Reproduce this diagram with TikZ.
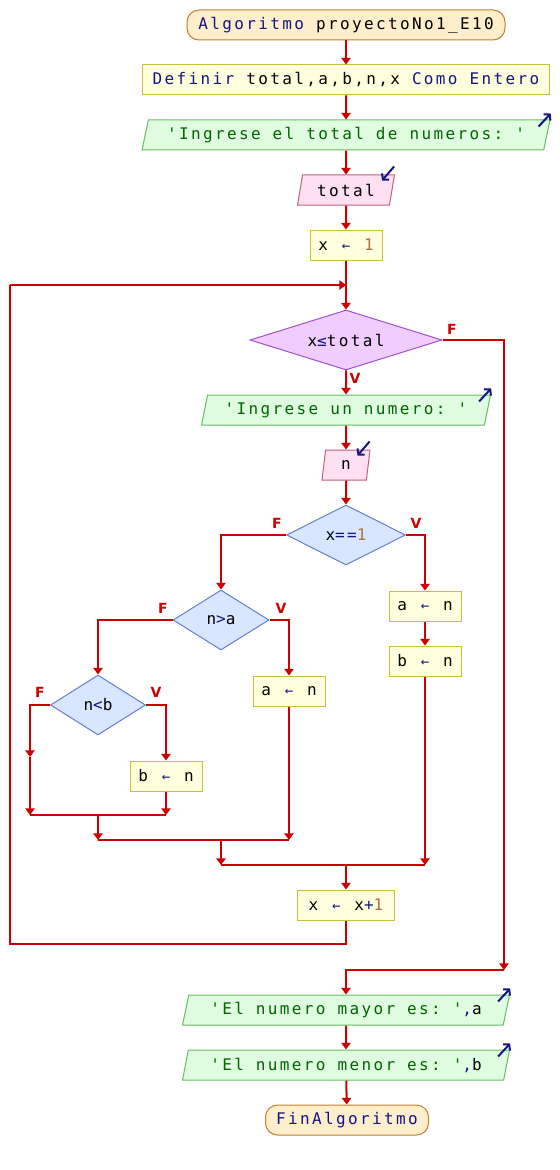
\documentclass[tikz,border=0pt]{standalone}
\usepackage{fontspec}
\setmonofont{DejaVu Sans Mono}[LetterSpace=14.8]
\setsansfont{DejaVu Sans}
\usetikzlibrary{arrows.meta,shapes.geometric}
\definecolor{kwblue}{RGB}{20,20,130}
\definecolor{nmbrown}{RGB}{180,110,70}
\definecolor{cadgreen}{RGB}{0,100,0}
\definecolor{flowred}{RGB}{204,0,0}
\definecolor{termf}{RGB}{255,238,204}
\definecolor{termb}{RGB}{192,128,48}
\definecolor{procf}{RGB}{255,255,221}
\definecolor{procb}{RGB}{200,192,60}
\definecolor{outf}{RGB}{224,252,224}
\definecolor{outb}{RGB}{100,190,100}
\definecolor{inf}{RGB}{255,224,240}
\definecolor{inb}{RGB}{192,96,128}
\definecolor{whf}{RGB}{240,204,255}
\definecolor{whb}{RGB}{160,80,208}
\definecolor{sif}{RGB}{216,230,255}
\definecolor{sib}{RGB}{96,128,208}
\newcommand\pse{\ttfamily\fontsize{12}{14}\selectfont}
\newcommand\kw[1]{\textcolor{kwblue}{#1}}
\newcommand\nm[1]{\textcolor{nmbrown}{#1}}
\newcommand\cad[1]{\textcolor{cadgreen}{#1}}
\newcommand\asig{\hbox to 9pt{\hss\kw{\fontsize{10.5}{8}\selectfont ←}\hss}}

\begin{document}
\begin{tikzpicture}[x=.75pt,y=-.75pt,
	box/.style={draw,line width=.75pt,inner sep=0pt,minimum height=22.5pt,font=\pse},
	term/.style={box,draw=termb,fill=termf,rounded corners=9pt},
	proc/.style={box,draw=procb,fill=procf},
	sal/.style={box,draw=outb,fill=outf,trapezium,trapezium left angle=68,trapezium right angle=112,trapezium stretches body},
	ent/.style={sal,draw=inb,fill=inf},
	mq/.style={box,diamond,shape aspect=3,draw=whb,fill=whf},
	si/.style={mq,draw=sib,fill=sif},
	line/.style={draw=flowred,line width=1.5pt},
	flow/.style={line,-{Triangle[width=7pt,length=5pt]}},
	ico/.style={draw=kwblue,line width=1.5pt,-{Straight Barb[length=3pt,width=7pt]}},
	lbl/.style={text=flowred,font=\sffamily\bfseries\fontsize{10.5}{12}\selectfont,inner sep=0pt}]
	\useasboundingbox (0,0) rectangle (560,1170);
	\node[term,minimum width=238.5pt] (ini) at (346,25) {\kw{Algoritmo} proyectoNo1\_E10};
	\node[proc,minimum width=305.25pt] (def) at (346,80) {\kw{Definir} total,a,b,n,x \kw{Como Entero}};
	\node[sal,minimum width=306pt] (p1) at (346,135) {\cad{'Ingrese el total de numeros: '}};
	\node[ent,minimum width=72.75pt] (total) at (346,190) {total};
	\node[proc,minimum width=54pt] (x1) at (346,245) {x \asig{} \nm{1}};
	\node[mq,minimum width=144pt,minimum height=45pt] (mientras) at (346,340) {x\kw{≤}total};
	\node[sal,minimum width=216.75pt] (p2) at (346,410) {\cad{'Ingrese un numero: '}};
	\node[ent,minimum width=36pt] (n) at (346,465) {n};
	\node[si,minimum width=89.25pt,minimum height=45pt] (si1) at (346,535) {x\kw{==}\nm{1}};
	\node[si,minimum width=72pt,minimum height=45pt] (si2) at (221,620) {n\kw{>}a};
	\node[si,minimum width=71.25pt,minimum height=45pt] (si3) at (98,705) {n\kw{<}b};
	\node[proc,minimum width=54pt] (a1) at (425,606) {a \asig{} n};
	\node[proc,minimum width=54pt] (b1) at (425,661) {b \asig{} n};
	\node[proc,minimum width=54pt] (a2) at (289,691) {a \asig{} n};
	\node[proc,minimum width=54pt] (b2) at (166,776) {b \asig{} n};
	\node[proc,minimum width=72.75pt] (inc) at (346,905) {x \asig{} x\kw{+}\nm{1}};
	\node[sal,minimum width=245.25pt] (may) at (346,1010) {\cad{'El numero mayor es: '}\kw{,}a};
	\node[sal,minimum width=245.25pt] (men) at (346,1065) {\cad{'El numero menor es: '}\kw{,}b};
	\node[term,minimum width=122.25pt] (fin) at (347,1120) {\kw{FinAlgoritmo}};
	\node[lbl] (fw) at (452,329) {F};
	\node[lbl] (vw) at (355,378) {V};
	\node[lbl] (f1) at (277,523) {F};
	\node[lbl] (v1) at (416,523) {V};
	\node[lbl] (f2) at (163,608) {F};
	\node[lbl] (v2) at (281,608) {V};
	\node[lbl] (f3) at (40,692) {F};
	\node[lbl] (v3) at (156,692) {V};
	\path
	(346,285) coordinate (lj)
	(10,285) coordinate (lt)
	(10,944) coordinate (lb)
	(504,970) coordinate (fe)
	(30,757) coordinate (c1)
	(30,815) coordinate (c2)
	(166,815) coordinate (c3)
	(98,840) coordinate (m1)
	(289,840) coordinate (m2)
	(221,865) coordinate (m3)
	(425,865) coordinate (m4);
	\foreach \a/\b in {ini/def,def/p1,p1/total,total/x1,x1/mientras,mientras/p2,p2/n,n/si1,a1/b1,may/men,men/fin} \draw[flow] (\a)--(\b);
	\draw[flow] (si1.west) -| (si2.north);
	\draw[flow] (si1.east) -| (a1.north);
	\draw[flow] (si2.west) -| (si3.north);
	\draw[flow] (si2.east) -| (a2.north);
	\draw[flow] (si3.west) -| (c1);
	\draw[flow] (si3.east) -| (b2.north);
	\draw[flow] (c1)--(c2);
	\draw[flow] (b2)--(c3);
	\draw[line] (c2)--(c3);
	\draw[flow] (c2-|si3)--(m1);
	\draw[flow] (a2)--(m2);
	\draw[line] (m1)--(m2);
	\draw[flow] (m1-|si2)--(m3);
	\draw[flow] (b1)--(m4);
	\draw[line] (m3)--(m4);
	\draw[flow] (m3-|inc)--(inc);
	\draw[line] (inc)--(inc|-lb)--(lb)--(lt);
	\draw[flow] (lt)--(lj);
	\draw[flow] (mientras.east) -| (fe);
	\draw[flow] (fe) -| (may);
	\foreach \s in {p1,p2,may,men} \draw[ico] ([shift={(-12,7)}]\s.top right corner) -- ++(12,-13);
	\foreach \s in {total,n} \draw[ico] ([shift={(-1,-8)}]\s.top right corner) -- ++(-12,14);
\end{tikzpicture}
\end{document}
